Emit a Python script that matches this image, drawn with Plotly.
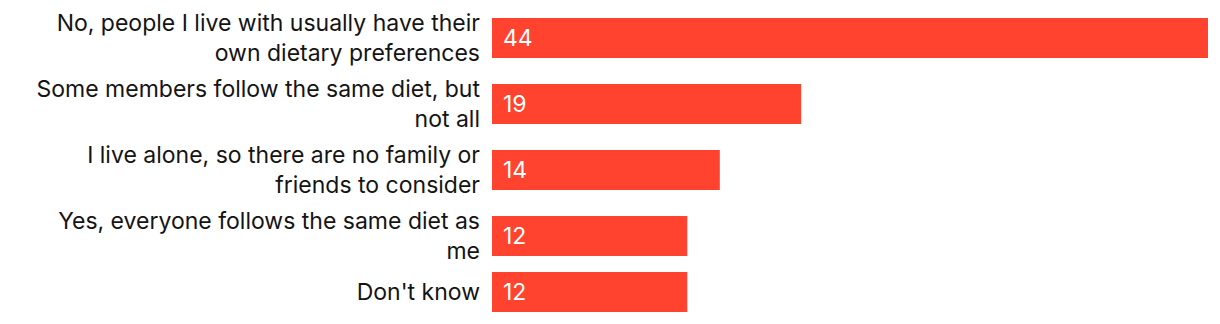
import plotly.graph_objects as go

categories = [
    "No, people I live with usually have their<br>own dietary preferences",
    "Some members follow the same diet, but<br>not all",
    "I live alone, so there are no family or<br>friends to consider",
    "Yes, everyone follows the same diet as<br>me",
    "Don't know",
]
values = [44, 19, 14, 12, 12]

BAR_COLOR = "#ff432e"
FONT = "Inter, 'Noto Sans', sans-serif"
FONT_SIZE = 23

# Row layout: each row is as tall as its label (or the bar, if taller), with a fixed gap.
BAR_H = 40
LINE_H = 30
GAP = 6
TOP_PAD = 8
centers = []
pos = TOP_PAD
for label in categories:
    n_lines = label.count("<br>") + 1
    row_h = max(BAR_H, LINE_H * n_lines)
    centers.append(pos + row_h / 2)
    pos += row_h + GAP

W, H = 1220, 324
fig = go.Figure(
    go.Bar(
        x=values,
        y=centers,
        orientation="h",
        width=BAR_H,
        marker=dict(color=BAR_COLOR, line=dict(width=0)),
        hoverinfo="skip",
    )
)

for v, c in zip(values, centers):
    fig.add_annotation(
        x=0, y=c, xref="x", yref="y",
        text=str(v), showarrow=False,
        xanchor="left", yanchor="middle", xshift=9,
        font=dict(family=FONT, size=FONT_SIZE, color="white"),
    )

fig.update_layout(
    width=W, height=H,
    margin=dict(l=492, r=12, t=0, b=0),
    paper_bgcolor="white", plot_bgcolor="white",
    showlegend=False,
    font=dict(family=FONT, size=FONT_SIZE, color="#141414"),
    xaxis=dict(range=[0, max(values)], visible=False, fixedrange=True),
    yaxis=dict(
        range=[H, 0],
        tickvals=centers,
        ticktext=categories,
        showgrid=False, zeroline=False, showline=False,
        ticks="", ticklabelstandoff=11,
        tickfont=dict(family=FONT, size=FONT_SIZE, color="#141414"),
        fixedrange=True,
    ),
)

fig.write_html("out.html")
